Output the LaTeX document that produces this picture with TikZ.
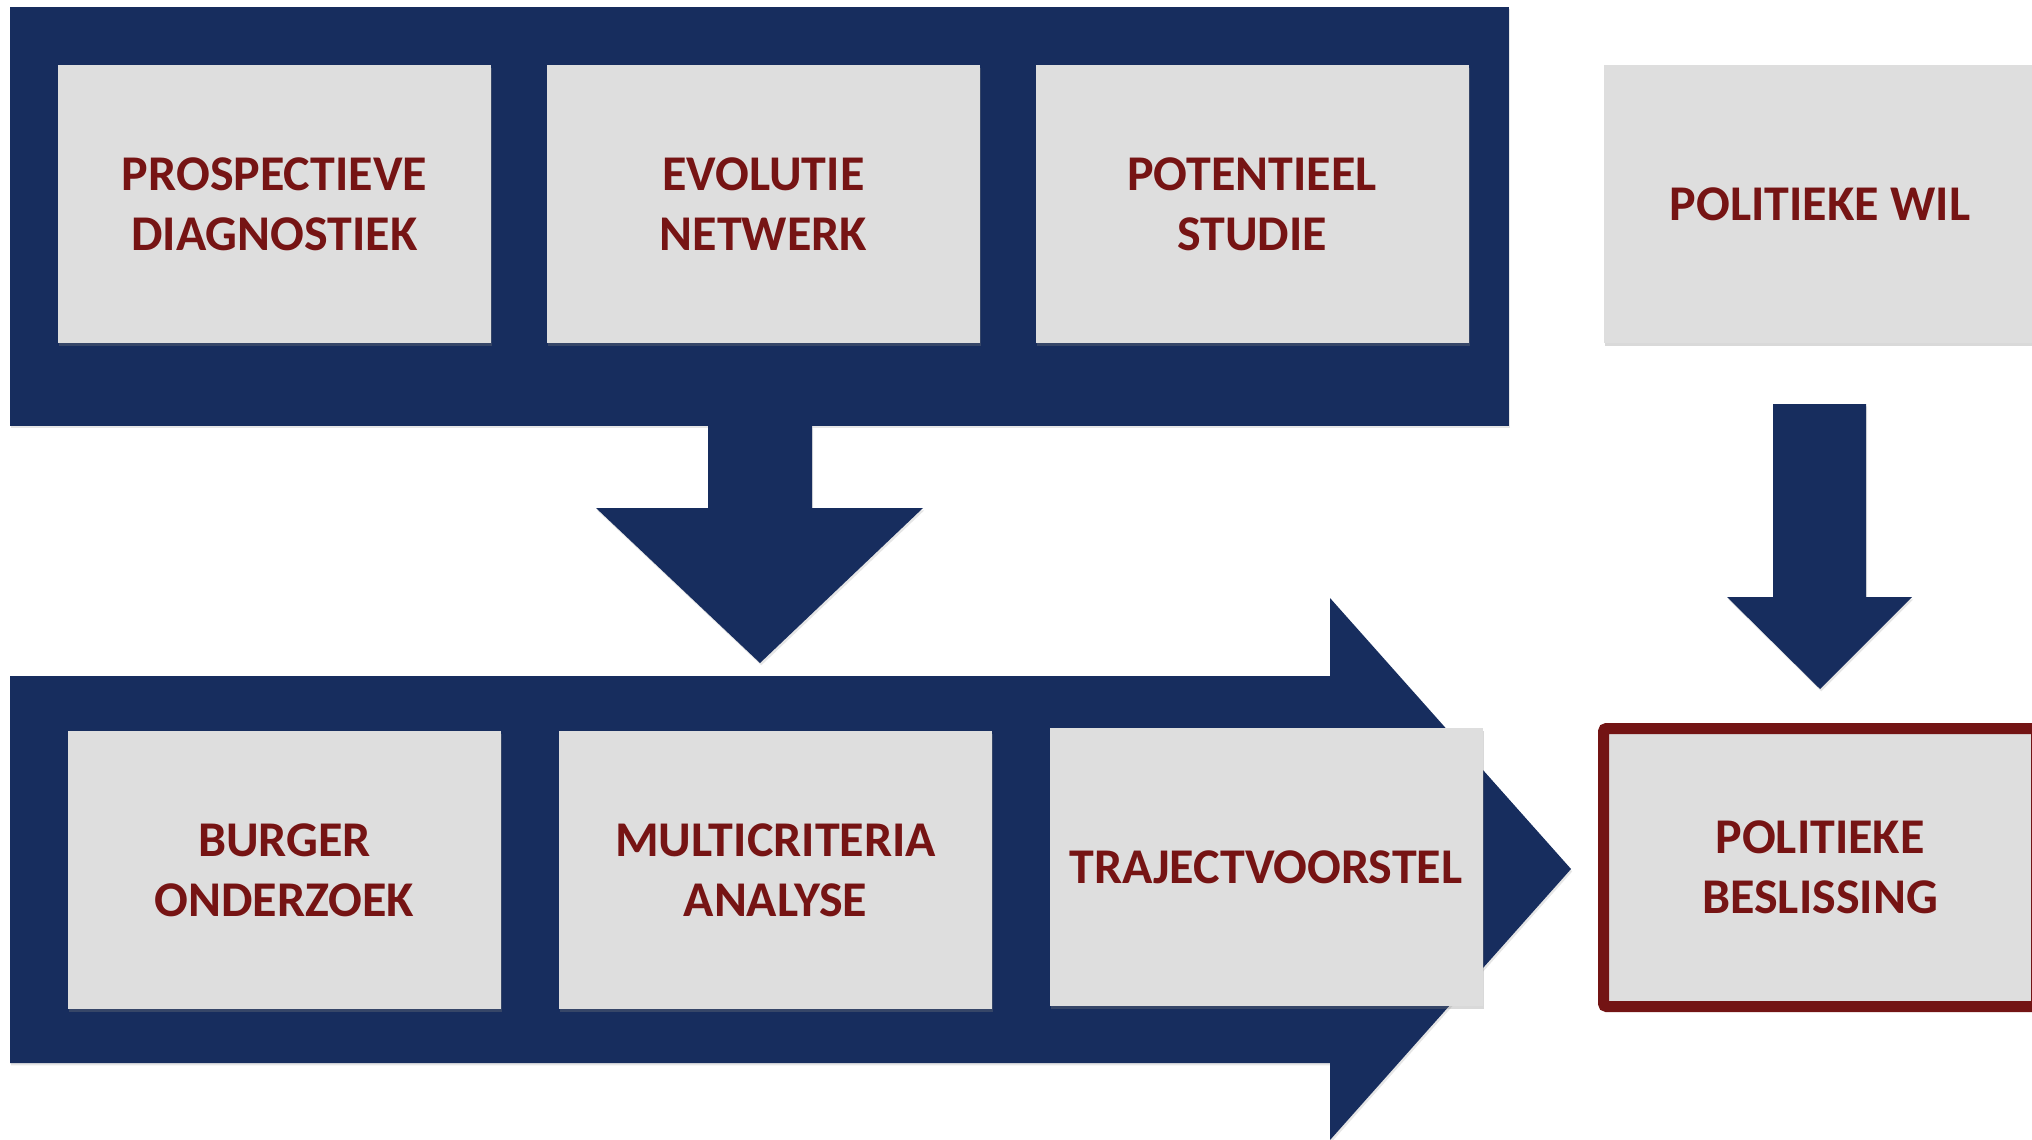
\documentclass[tikz,border=0pt]{standalone}
\usepackage{fontspec}
\setmainfont{Carlito}
\usetikzlibrary{shadows}
\definecolor{navy}{RGB}{23,45,94}
\definecolor{boxgray}{RGB}{222,222,222}
\definecolor{txtred}{RGB}{118,20,20}
\definecolor{brdred}{RGB}{115,20,20}
\begin{document}
\begin{tikzpicture}[x=0.5pt,y=-0.5pt,
  navyshape/.style={fill=navy, drop shadow={shadow xshift=0.6pt, shadow yshift=-1.2pt, opacity=0.2}},
  stepbox/.style={fill=boxgray, minimum width=216.5pt, minimum height=139pt, inner sep=0pt,
    align=center, text=txtred, font=\bfseries\fontsize{25}{30}\selectfont,
    drop shadow={shadow xshift=0.5pt, shadow yshift=-1.5pt, opacity=0.3}},
  finalbox/.style={stepbox, draw=brdred, line width=5.5pt, rounded corners=1.5pt}]
\useasboundingbox (0,0) rectangle (2032,1139);
\clip (0,0) rectangle (2032,1139);
% top panel
\path[navyshape] (10,7) rectangle (1509,426);
% down arrow from top panel
\path[fill=navy, drop shadow={shadow xshift=0.6pt, shadow yshift=-1.2pt, opacity=0.2}]
  (708,426) -- (708,508) -- (596,508) -- (760,663) -- (923,508) -- (812,508) -- (812,426) -- cycle;
\path[fill=navy] (708,420) rectangle (812,430);
% bottom big arrow
\path[navyshape] (10,676) -- (1330,676) -- (1330,598) -- (1571,869) -- (1330,1140) -- (1330,1063) -- (10,1063) -- cycle;
% right down arrow
\path[navyshape] (1773,404) -- (1866,404) -- (1866,597) -- (1912,597) -- (1820,689) -- (1727,597) -- (1773,597) -- cycle;
% boxes
\node[stepbox] (pd) at (274.5,204) {PROSPECTIEVE\\DIAGNOSTIEK};
\node[stepbox] (en) at (763.5,204) {EVOLUTIE\\NETWERK};
\node[stepbox] (ps) at (1252,204) {POTENTIEEL\\STUDIE};
\node[stepbox] (pw) at (1820,204) {POLITIEKE WIL};
\node[stepbox] (bo) at (284.5,870) {BURGER\\ONDERZOEK};
\node[stepbox] (ma) at (775.5,870) {MULTICRITERIA\\ANALYSE};
\node[stepbox] (tv) at (1266,867) {TRAJECTVOORSTEL};
\node[finalbox] (pb) at (1820,867.5) {POLITIEKE\\BESLISSING};
\end{tikzpicture}
\end{document}
